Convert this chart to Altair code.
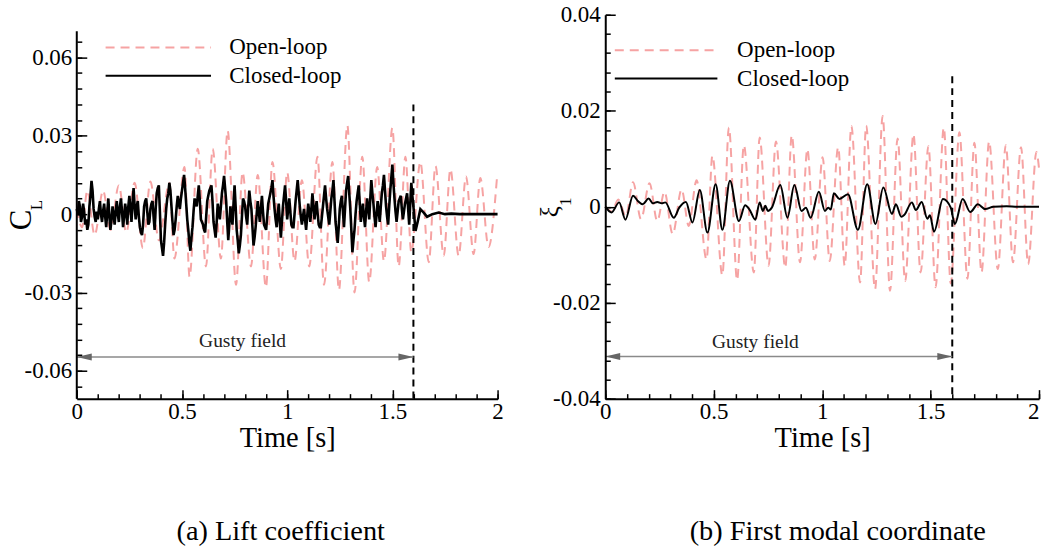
import altair as alt
import pandas as pd

FONT = "Liberation Serif"
PINK = "#f6a3a3"

# ---------------- (a) Lift coefficient ----------------
ol_a_t = [0.00, 0.025, 0.05, 0.085, 0.125, 0.16, 0.20, 0.235, 0.275, 0.314,
          0.35, 0.39, 0.44, 0.464, 0.512, 0.536, 0.575, 0.614, 0.646, 0.685,
          0.717, 0.757, 0.788, 0.828, 0.86, 0.899, 0.93, 0.97, 1.0, 1.035,
          1.07, 1.105, 1.144, 1.175, 1.215, 1.246, 1.286, 1.32, 1.357, 1.39,
          1.428, 1.46, 1.50, 1.53, 1.562, 1.59, 1.633, 1.673, 1.705, 1.744,
          1.776, 1.815, 1.85, 1.886, 1.918, 1.957, 1.997]
ol_a_v = [0.002, -0.005, 0.009, -0.008, 0.009, -0.006, 0.011, -0.007, 0.012, -0.013,
          0.0125, -0.010, 0.012, -0.017, 0.018, -0.024, 0.025, -0.020, 0.025, -0.017,
          0.032, -0.027, 0.016, -0.020, 0.015, -0.028, 0.020, -0.021, 0.016, -0.018,
          0.013, -0.020, 0.022, -0.027, 0.020, -0.029, 0.034, -0.030, 0.022, -0.026,
          0.018, -0.018, 0.033, -0.020, 0.022, -0.0146, 0.020, -0.0184, 0.0184, -0.0159,
          0.0172, -0.016, 0.0144, -0.0153, 0.0138, -0.0126, 0.0138]

# closed-loop lift read every 0.01 s from 0 to 1.6 s (values in 1e-3)
cl_a_grid_milli = [
    2, 5, -3, 4, -4, -6, 3, 12.7, 2, -3,
    -2, 5, -3, 4, -5, 6, -6, 3, -4, 5,
    -3, 6, -5, 4, -4, 7, -3, 10, -2, 5,
    -5, -8, 3, 6, -4, 2, 5, -6, 8, 11,
    -10, -16, -4, 6, 12, 3, -8, -2, 7, 2,
    9, 15, 4, -6, -14, -5, 6, 3, 11, -2,
    -4, -7, 5, 9, 11, -3, -9, 4, -2, 8,
    14.6, 5, -10, 3, -4, 11, -6, -15, -8, 6,
    3, -4, 9, 2, -12, -5, 5, -3, 7, -4,
    -6, 4, 8, 13, 2, -5, 4, -9, 3, 11,
    -2, 6, -4, -5, 5, 13, 3, -4, 2, -6,
    4, -3, 8, -2, 5, -4, -5, 3, 11, 2,
    -4, 6, 13, -3, -11, 2, 7, -5, 9, 14.6,
    2, -14.6, -6, 5, 11, -3, 4, -5, 6, -2,
    13, 4, -5, 5, -3, 8, 15, 3, -4, 9,
    19, 6, -3, 5, 7, -2, 4, 8, -4, 12,
    3]
# closed-loop lift read half-way between the samples above (values in 1e-3)
cl_a_mid_milli = [
    0, 3, -1, 1, -2, -4, 7, 9, -1, 1,
    2, 0, 1, -1, 1, -1, -2, 0, 1, 0,
    3, 1, -1, 1, 3, 2, 4, 3, 3, -1,
    -7, -4, 5, 1, -3, 4, -1, 2, 10, 1,
    -13, -11, 2, 8, 9, -3, -6, 3, 4, 6,
    12, 10, -2, -11, -9, 1, 4, 7, 5, -3,
    -6, -1, 7, 10, 5, -6, -3, 1, 3, 11,
    10, -3, -4, -1, 4, 3, -10, -12, -1, 5,
    -1, 3, 5, -5, -9, 0, 1, 2, 1, -5,
    -1, 6, 10, 7, -2, 0, -3, -3, 7, 5,
    2, 1, -5, 0, 9, 8, -1, -1, -2, -1,
    1, 2, 3, 2, 0, -5, -1, 7, 6, -1,
    1, 9, 5, -7, -5, 5, 1, 2, 12, 8,
    -6, -10, 0, 8, 4, 1, -1, 1, 2, 6,
    8, -1, 0, 1, 3, 11, 9, -1, 3, 14,
    12, 1, 1, 6, 2, 1, 6, 2, 4, 7]
cl_a_tail_t = [1.61, 1.62, 1.633, 1.65, 1.665, 1.69, 1.72, 1.75, 1.78, 1.82, 1.9, 2.0]
cl_a_tail_milli = [-6.4, -3, 1.9, 0.5, -1.0, 0, 0.6, 0, 0.2, 0, 0, 0]

cl_a_t, cl_a_v = [], []
for i, g in enumerate(cl_a_grid_milli):
    cl_a_t.append(round(0.01 * i, 3))
    cl_a_v.append(g / 1000)
    if i < len(cl_a_mid_milli):
        cl_a_t.append(round(0.01 * i + 0.005, 3))
        cl_a_v.append(cl_a_mid_milli[i] / 1000)
cl_a_t += cl_a_tail_t
cl_a_v += [m / 1000 for m in cl_a_tail_milli]

# ---------------- (b) First modal coordinate ----------------
ol_b_t = [0.0, 0.03, 0.06, 0.095, 0.128, 0.165, 0.204, 0.24, 0.273, 0.311,
          0.352, 0.385, 0.421, 0.467, 0.494, 0.54, 0.57, 0.608, 0.639, 0.685,
          0.712, 0.753, 0.787, 0.83, 0.86, 0.898, 0.932, 0.966, 1.002, 1.035,
          1.074, 1.104, 1.135, 1.175, 1.203, 1.244, 1.279, 1.313, 1.348, 1.383,
          1.421, 1.454, 1.49, 1.523, 1.561, 1.593, 1.633, 1.67, 1.702, 1.735,
          1.77, 1.81, 1.847, 1.88, 1.917, 1.95, 1.988, 2.0]
ol_b_v = [0.0, -0.001, 0.0015, -0.002, 0.0051, -0.0026, 0.0049, -0.003, 0.0031, -0.0057,
          0.0036, -0.004, 0.0055, -0.011, 0.0106, -0.0143, 0.0165, -0.0153, 0.0128, -0.0137,
          0.0144, -0.0123, 0.0136, -0.0127, 0.0149, -0.0116, 0.012, -0.011, 0.0103, -0.0113,
          0.0124, -0.0123, 0.0168, -0.0158, 0.0169, -0.0172, 0.0189, -0.0175, 0.0142, -0.0155,
          0.0151, -0.0137, 0.0126, -0.0168, 0.0165, -0.016, 0.0155, -0.015, 0.0133, -0.0137,
          0.0136, -0.013, 0.0128, -0.0116, 0.0124, -0.012, 0.0114, 0.008]

cl_b_t = [0.0, 0.029, 0.064, 0.093, 0.128, 0.15, 0.173, 0.2, 0.22, 0.24,
          0.26, 0.277, 0.316, 0.341, 0.372, 0.402, 0.436, 0.471, 0.509, 0.54,
          0.575, 0.616, 0.645, 0.665, 0.692, 0.712, 0.727, 0.738, 0.75, 0.768,
          0.807, 0.84, 0.872, 0.905, 0.925, 0.947, 0.985, 1.013, 1.028, 1.04,
          1.054, 1.08, 1.119, 1.165, 1.208, 1.246, 1.282, 1.322, 1.34, 1.365,
          1.379, 1.414, 1.432, 1.459, 1.485, 1.497, 1.516, 1.557, 1.593, 1.612,
          1.648, 1.683, 1.718, 1.752, 1.79, 1.85, 1.9, 2.0]
cl_b_v = [0.0, -0.0012, 0.0009, -0.0027, 0.0023, 0.0012, 0.0005, 0.0017, 0.0007, 0.001,
          0.0007, 0.0009, -0.0023, -0.0002, 0.001, -0.0033, 0.0035, -0.0054, 0.0047, -0.0048,
          0.0054, -0.003, 0.0003, -0.0006, -0.0027, 0.0009, -0.0009, 0.0002, -0.0009, -0.0002,
          0.0045, -0.0023, 0.0045, -0.0009, -0.0002, -0.0023, 0.0031, -0.0009, -0.0002, -0.0006,
          0.0028, 0.0016, 0.0026, -0.0048, 0.0047, -0.0036, 0.004, -0.0015, 0.0005, -0.0021,
          -0.0017, 0.0009, -0.0007, 0.001, -0.0025, -0.0018, -0.0052, 0.0016, -0.0002, -0.0036,
          0.0016, -0.0011, 0.0005, -0.0005, 0.0, 0.0001, 0.0, 0.0]

# ---------------- ticks ----------------
X_MAJOR = [0, 0.5, 1, 1.5, 2]
X_MINOR = [round(0.1 * i, 1) for i in range(21)]
Y_MAJOR_A = [-0.06, -0.03, 0, 0.03, 0.06]
Y_MINOR_A = [round(0.006 * i, 3) for i in range(-11, 12)]
Y_MAJOR_B = [-0.04, -0.02, 0, 0.02, 0.04]
Y_MINOR_B = [round(0.004 * i, 3) for i in range(-10, 11)]

MINUS_FIX = "replace(datum.label, '\u2212', '-')"
TICK_FS = 23


def tick_axis(orient, offset, values, size):
    return alt.Axis(orient=orient, offset=offset, values=values, labels=False,
                    domain=False, ticks=True, tickSize=size, tickWidth=1.5,
                    tickColor="black", title=None, grid=False, zindex=2)


def panel(ol_t, ol_v, cl_t, cl_v, cl_interp, cl_width, ydom, W, H, ymaj, ymin,
          draw_axis_rule, axis_top, vline_top, arrow_y, gust_t, gust_y, leg, glyphs,
          caption, cap_dx, flush_last):
    xs = alt.Scale(domain=[0, 2], nice=False, zero=False)
    ys = alt.Scale(domain=ydom, nice=False, zero=False)
    x_align = ({"condition": {"test": "datum.value === 2", "value": "right"},
                "value": "center"} if flush_last else "center")
    ax_x = alt.Axis(orient="bottom", values=X_MAJOR, format="~g", labelExpr=MINUS_FIX,
                    ticks=False, domain=True, domainColor="black", domainWidth=2,
                    labelFont=FONT, labelFontSize=TICK_FS, labelColor="black",
                    labelPadding=2, labelFlush=False, labelOverlap=False,
                    labelAlign=x_align,
                    title="Time [s]", titleFont=FONT, titleFontSize=28.5,
                    titleFontWeight="normal", titleColor="black", titlePadding=0,
                    grid=False, zindex=2)
    ax_y = alt.Axis(orient="left", values=ymaj, format="~g", labelExpr=MINUS_FIX,
                    ticks=False, domain=not draw_axis_rule, domainColor="black",
                    domainWidth=2, labelFont=FONT, labelFontSize=TICK_FS,
                    labelColor="black", labelPadding=5, labelFlush=False,
                    labelOverlap=False, title=None, grid=False, zindex=2)

    ol = pd.DataFrame({"t": ol_t, "v": ol_v})
    cl = pd.DataFrame({"t": cl_t, "v": cl_v})
    pink = alt.Chart(ol).mark_line(color=PINK, strokeWidth=2, strokeDash=[9, 6],
                                   interpolate="monotone").encode(
        x=alt.X("t:Q", scale=xs, axis=ax_x), y=alt.Y("v:Q", scale=ys, axis=ax_y))
    black = alt.Chart(cl).mark_line(color="black", strokeWidth=cl_width,
                                    interpolate=cl_interp).encode(
        x=alt.X("t:Q", scale=xs, axis=tick_axis("top", -H, X_MAJOR, 9)),
        y=alt.Y("v:Q", scale=ys, axis=tick_axis("right", -W, ymaj, 10)))

    vl = pd.DataFrame({"t": [1.6], "lo": [ydom[0]], "hi": [vline_top]})
    vline = alt.Chart(vl).mark_rule(color="black", strokeWidth=2, strokeDash=[7, 5]).encode(
        x=alt.X("t:Q", scale=xs, axis=tick_axis("top", -H, X_MINOR, 5)),
        y=alt.Y("hi:Q", scale=ys, axis=tick_axis("right", -W, ymin, 5)), y2="lo:Q")

    ar = pd.DataFrame({"t0": [0.0], "t1": [1.6], "v": [arrow_y]})
    arrow = alt.Chart(ar).mark_rule(color="#8a8a8a", strokeWidth=1.5).encode(
        x=alt.X("t0:Q", scale=xs, axis=None), x2="t1:Q",
        y=alt.Y("v:Q", scale=ys, axis=None))
    hl = pd.DataFrame({"t": [0.0], "v": [arrow_y]})
    hr = pd.DataFrame({"t": [1.6], "v": [arrow_y]})
    head_l = alt.Chart(hl).mark_point(shape="M0,0L2,-0.47L2,0.47Z", size=225, filled=True,
                                      color="#666666", opacity=1, strokeWidth=0).encode(
        x=alt.X("t:Q", scale=xs, axis=None), y=alt.Y("v:Q", scale=ys, axis=None))
    head_r = alt.Chart(hr).mark_point(shape="M0,0L-2,-0.47L-2,0.47Z", size=225, filled=True,
                                      color="#666666", opacity=1, strokeWidth=0).encode(
        x=alt.X("t:Q", scale=xs, axis=None), y=alt.Y("v:Q", scale=ys, axis=None))

    gt = pd.DataFrame({"t": [gust_t], "v": [gust_y], "s": ["Gusty field"]})
    gust = alt.Chart(gt).mark_text(font=FONT, fontSize=19.5, color="#222222").encode(
        x=alt.X("t:Q", scale=xs, axis=None), y=alt.Y("v:Q", scale=ys, axis=None),
        text="s:N")

    t0, t1, tt, yo, yc = leg
    lo = pd.DataFrame({"t": [t0, t1], "v": [yo, yo]})
    lc = pd.DataFrame({"t": [t0, t1], "v": [yc, yc]})
    leg_o = alt.Chart(lo).mark_line(color=PINK, strokeWidth=2, strokeDash=[9, 6]).encode(
        x=alt.X("t:Q", scale=xs, axis=None), y=alt.Y("v:Q", scale=ys, axis=None))
    leg_c = alt.Chart(lc).mark_line(color="black", strokeWidth=2).encode(
        x=alt.X("t:Q", scale=xs, axis=None), y=alt.Y("v:Q", scale=ys, axis=None))
    lt = pd.DataFrame({"t": [tt, tt], "v": [yo, yc], "s": ["Open-loop", "Closed-loop"]})
    leg_t = alt.Chart(lt).mark_text(font=FONT, fontSize=23, color="black", align="left",
                                    baseline="middle").encode(
        x=alt.X("t:Q", scale=xs, axis=None), y=alt.Y("v:Q", scale=ys, axis=None),
        text="s:N")

    (gm, gm_t, gm_v, gm_fs), (gs, gs_t, gs_v, gs_fs) = glyphs
    gmd = pd.DataFrame({"t": [gm_t], "v": [gm_v], "s": [gm]})
    gsd = pd.DataFrame({"t": [gs_t], "v": [gs_v], "s": [gs]})
    g_main = alt.Chart(gmd).mark_text(font=FONT, fontSize=gm_fs, angle=270, color="black",
                                      align="center", baseline="middle").encode(
        x=alt.X("t:Q", scale=xs, axis=None), y=alt.Y("v:Q", scale=ys, axis=None),
        text="s:N")
    g_sub = alt.Chart(gsd).mark_text(font=FONT, fontSize=gs_fs, angle=270, color="black",
                                     align="center", baseline="middle").encode(
        x=alt.X("t:Q", scale=xs, axis=None), y=alt.Y("v:Q", scale=ys, axis=None),
        text="s:N")

    layers = [pink, black, vline, arrow, head_l, head_r, gust, leg_o, leg_c, leg_t,
              g_main, g_sub]
    if draw_axis_rule:
        adf = pd.DataFrame({"t": [0.0], "lo": [ydom[0]], "hi": [axis_top]})
        layers.append(alt.Chart(adf).mark_rule(color="black", strokeWidth=2).encode(
            x=alt.X("t:Q", scale=xs, axis=None),
            y=alt.Y("lo:Q", scale=ys, axis=None), y2="hi:Q"))

    return alt.layer(*layers).resolve_axis(x="independent", y="independent").properties(
        width=W, height=H,
        title=alt.TitleParams(caption, orient="bottom", anchor="middle", font=FONT,
                              fontSize=28.4, fontWeight="normal", color="black",
                              offset=66, dx=cap_dx))


left = panel(ol_a_t, ol_a_v, cl_a_t, cl_a_v, "linear", 2.6, [-0.0706, 0.0763], 422, 385,
             Y_MAJOR_A, Y_MINOR_A, True, 0.07, 0.042, -0.0547, 0.788, -0.0487,
             (0.137, 0.638, 0.725, 0.0638, 0.0530),
             (("C", -0.258, -0.0022, 31), ("L", -0.187, 0.0035, 17)),
             "(a) Lift coefficient", -6.5, False)
right = panel(ol_b_t, ol_b_v, cl_b_t, cl_b_v, "monotone", 2, [-0.04, 0.04], 435, 385,
              Y_MAJOR_B, Y_MINOR_B, False, 0.04, 0.0272, -0.0312, 0.692, -0.0283,
              (0.044, 0.517, 0.608, 0.0326, 0.0267),
              (("\u03be", -0.253, -0.00104, 25), ("1", -0.179, 0.00104, 17)),
              "(b) First modal coordinate", 15.7, True)

chart = alt.hconcat(left, right, spacing=108, bounds="flush").properties(
    padding={"left": 6, "top": 3, "right": 0, "bottom": 0},
    background="white",
).configure_view(stroke=None)

chart.save("out.html", embed_options={"renderer": "svg", "actions": False})
